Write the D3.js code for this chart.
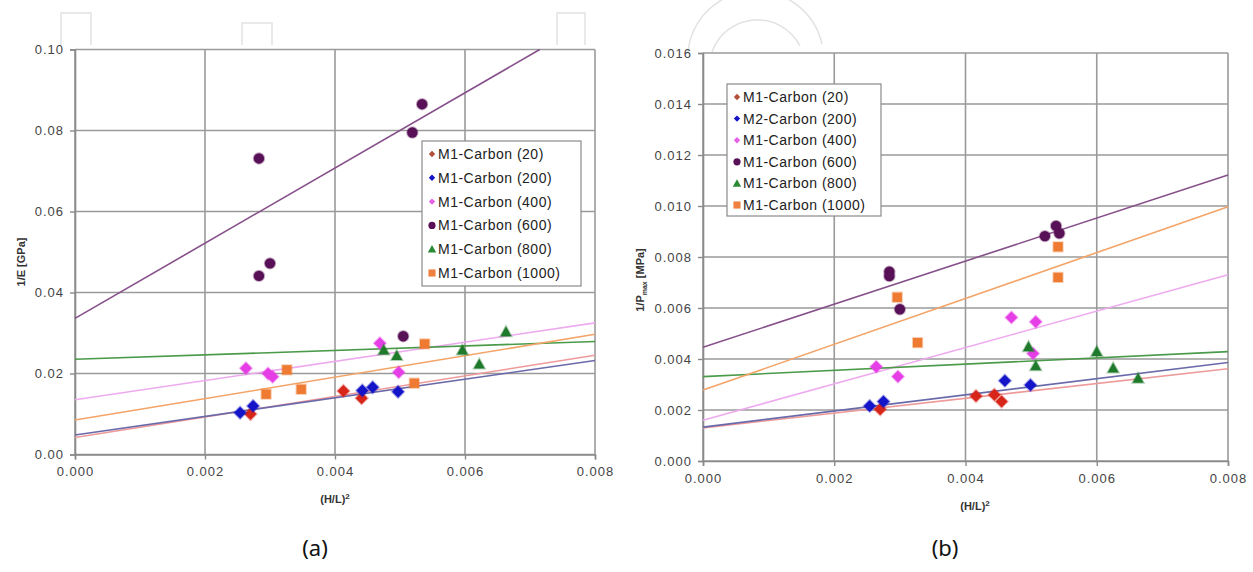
<!DOCTYPE html>
<html>
<head>
<meta charset="utf-8">
<script src="https://cdn.jsdelivr.net/npm/d3@7"></script>
<style>
  html, body { margin: 0; padding: 0; background: #ffffff; }
  svg { display: block; }
</style>
</head>
<body>
<svg id="chart" width="1253" height="572"></svg>
<script>
// ---------- DATA ----------
const seriesKeys = ["20", "200", "400", "600", "800", "1000"];
const legendLabelsA = ["M1-Carbon (20)", "M1-Carbon (200)", "M1-Carbon (400)", "M1-Carbon (600)", "M1-Carbon (800)", "M1-Carbon (1000)"];
const legendLabelsB = ["M1-Carbon (20)", "M2-Carbon (200)", "M1-Carbon (400)", "M1-Carbon (600)", "M1-Carbon (800)", "M1-Carbon (1000)"];

const xTicks = [0, 0.002, 0.004, 0.006, 0.008];
const yTicksA = [0, 0.02, 0.04, 0.06, 0.08, 0.10];
const yTicksB = [0, 0.002, 0.004, 0.006, 0.008, 0.010, 0.012, 0.014, 0.016];

// (a) 1/E [GPa] vs (H/L)^2
const a20   = [[0.0027, 0.0100], [0.00413, 0.0157], [0.00441, 0.0139]];
const a200  = [[0.00254, 0.0103], [0.00274, 0.0120], [0.00442, 0.0158], [0.00458, 0.0166], [0.00497, 0.0155]];
const a400  = [[0.00263, 0.0213], [0.00297, 0.0200], [0.00304, 0.0192], [0.00469, 0.0275], [0.00498, 0.0203]];
const a600  = [[0.00283, 0.0731], [0.00283, 0.0441], [0.0030, 0.0472], [0.00519, 0.0795], [0.00534, 0.0865], [0.00505, 0.0292]];
const a800  = [[0.00475, 0.0258], [0.00495, 0.0244], [0.00596, 0.0258], [0.00622, 0.0223], [0.00663, 0.0303]];
const a1000 = [[0.00294, 0.0149], [0.00326, 0.0209], [0.00348, 0.0161], [0.00522, 0.0176], [0.00538, 0.0273]];
const aTrend20   = [[0, 0.0042], [0.008, 0.0245]];
const aTrend200  = [[0, 0.0048], [0.008, 0.0232]];
const aTrend400  = [[0, 0.0135], [0.008, 0.0325]];
const aTrend600  = [[0, 0.0336], [0.00715, 0.10]];
const aTrend800  = [[0, 0.0235], [0.008, 0.0279]];
const aTrend1000 = [[0, 0.0085], [0.008, 0.0297]];

// (b) 1/Pmax [MPa] vs (H/L)^2
const b20   = [[0.0027, 0.00203], [0.00416, 0.00255], [0.00444, 0.0026], [0.00455, 0.00233]];
const b200  = [[0.00254, 0.00216], [0.00275, 0.00233], [0.0046, 0.00315], [0.00499, 0.00298]];
const b400  = [[0.00264, 0.0037], [0.00297, 0.00331], [0.0047, 0.00563], [0.00507, 0.00546], [0.00503, 0.00422]];
const b600  = [[0.00284, 0.00742], [0.00284, 0.00725], [0.0030, 0.00595], [0.00521, 0.00882], [0.00538, 0.00922], [0.00543, 0.00893]];
const b800  = [[0.00496, 0.00448], [0.00507, 0.00373], [0.006, 0.00429], [0.00625, 0.00364], [0.00663, 0.00324]];
const b1000 = [[0.00296, 0.00642], [0.00327, 0.00464], [0.00541, 0.0084], [0.00541, 0.0072]];
const bTrend20   = [[0, 0.0013], [0.008, 0.00362]];
const bTrend200  = [[0, 0.00133], [0.008, 0.00386]];
const bTrend400  = [[0, 0.0016], [0.008, 0.0073]];
const bTrend600  = [[0, 0.00446], [0.008, 0.01122]];
const bTrend800  = [[0, 0.00331], [0.008, 0.00429]];
const bTrend1000 = [[0, 0.00278], [0.008, 0.00997]];

// ---------- STYLE ----------
const markerColor = {"20": "#d8251a", "200": "#1414c8", "400": "#e63ee6", "600": "#581056", "800": "#1f7a2c", "1000": "#ef7a32"};
const legendColor = {"20": "#b0503a", "200": "#1414c8", "400": "#e660e6", "600": "#581056", "800": "#2a8a36", "1000": "#ef8040"};
const trendColor  = {"20": "#ee9a9a", "200": "#6a6aaa", "400": "#eeaaee", "600": "#86508a", "800": "#4a9a4a", "1000": "#f3a468"};
const shape = {"20": "diamond", "200": "diamond", "400": "diamond", "600": "circle", "800": "triangle", "1000": "square"};

function markerPath(type, s) {
  if (type === "diamond") return `M0,${-s}L${s},0L0,${s}L${-s},0Z`;
  if (type === "square") return `M${-s*0.85},${-s*0.85}h${s*1.7}v${s*1.7}h${-s*1.7}Z`;
  if (type === "triangle") return `M0,${-s}L${s},${s*0.8}L${-s},${s*0.8}Z`;
  return d3.symbol(d3.symbolCircle, Math.PI * s * s)();
}

const svg = d3.select("#chart");
const FONT = "'Liberation Sans', Arial, sans-serif";

// faint watermark decoration at top
const deco = svg.append("g").attr("fill", "none").attr("stroke", "#e2e2e2").attr("stroke-width", 1.5);
deco.append("path").attr("d", "M61,45V13H91V45");
deco.append("path").attr("d", "M242,45V23H272V45");
deco.append("path").attr("d", "M557,45V13H585V45");
deco.append("path").attr("d", "M688,52A68,68 0 0 1 822,44");
deco.append("path").attr("d", "M712,52A48,48 0 0 1 800,46");

function drawChart(cfg) {
  const x = d3.scaleLinear().domain([0, 0.008]).range(cfg.xRange);
  const y = d3.scaleLinear().domain(cfg.yDomain).range(cfg.yRange);
  const g = svg.append("g");

  // gridlines
  g.append("g").selectAll("line.h").data(cfg.yTicks).join("line")
    .attr("x1", cfg.xRange[0]).attr("x2", cfg.xRange[1])
    .attr("y1", d => y(d)).attr("y2", d => y(d))
    .attr("stroke", "#9a9a9a").attr("stroke-width", 1.6);
  g.append("g").selectAll("line.v").data(xTicks).join("line")
    .attr("y1", cfg.yRange[0]).attr("y2", cfg.yRange[1])
    .attr("x1", d => x(d)).attr("x2", d => x(d))
    .attr("stroke", "#9a9a9a").attr("stroke-width", 1.6);

  // axes
  const xAxis = d3.axisBottom(x).tickValues(xTicks).tickFormat(d3.format(".3f")).tickSize(5).tickPadding(5);
  const yAxis = d3.axisLeft(y).tickValues(cfg.yTicks).tickFormat(d3.format(cfg.yFormat)).tickSize(5).tickPadding(6);
  const gx = g.append("g").attr("transform", `translate(0,${cfg.yRange[0]})`).call(xAxis);
  const gy = g.append("g").attr("transform", `translate(${cfg.xRange[0]},0)`).call(yAxis);
  [gx, gy].forEach(ax => {
    ax.select(".domain").attr("stroke", "#8a8a8a").attr("stroke-width", 1.6);
    ax.selectAll(".tick line").attr("stroke", "#8a8a8a").attr("stroke-width", 1.4);
    ax.selectAll(".tick text").attr("fill", "#444").style("font-family", FONT)
      .style("font-size", "13px").style("letter-spacing", "1px");
  });
  gx.selectAll(".tick text").attr("dy", "0.9em");

  // trend lines
  const line = d3.line().x(d => x(d[0])).y(d => y(d[1]));
  seriesKeys.forEach(k => {
    g.append("path").datum(cfg.trends[k]).attr("d", line)
      .attr("fill", "none").attr("stroke", trendColor[k]).attr("stroke-width", 1.6);
  });

  // markers
  cfg.order.forEach(k => {
    g.append("g").selectAll("path").data(cfg.points[k]).join("path")
      .attr("transform", d => `translate(${x(d[0])},${y(d[1])})`)
      .attr("d", markerPath(shape[k], shape[k] === "circle" ? 5.2 : (shape[k] === "diamond" ? 6 : 5.5)))
      .attr("fill", markerColor[k]).attr("stroke", markerColor[k]).attr("stroke-opacity", 0.35).attr("stroke-width", 2);
  });

  // legend
  const lg = g.append("g");
  lg.append("rect").attr("x", cfg.legend.x).attr("y", cfg.legend.y)
    .attr("width", cfg.legend.w).attr("height", cfg.legend.h)
    .attr("fill", "#fff").attr("stroke", "#8a8a8a").attr("stroke-width", 1.2);
  seriesKeys.forEach((k, i) => {
    const ly = cfg.legend.y + cfg.legend.first + i * cfg.legend.step;
    const sz = shape[k] === "diamond" ? 3.2 : (shape[k] === "circle" ? 3.6 : 4.2);
    lg.append("path").attr("transform", `translate(${cfg.legend.x + 10},${ly})`)
      .attr("d", markerPath(shape[k], sz)).attr("fill", legendColor[k]);
    lg.append("text").attr("x", cfg.legend.x + 16).attr("y", ly).attr("dy", "0.36em")
      .text(cfg.labels[i]).attr("fill", "#222").style("font-family", FONT)
      .style("font-size", "14px").style("letter-spacing", "0.5px");
  });

  // axis titles
  g.append("text").attr("x", cfg.xTitle[0]).attr("y", cfg.xTitle[1]).attr("text-anchor", "middle")
    .style("font-family", FONT).style("font-size", "11px").style("font-weight", "bold").attr("fill", "#333")
    .call(t => { t.append("tspan").text("(H/L)"); t.append("tspan").attr("dy", "-4").style("font-size", "8px").text("2"); });
  const yt = g.append("text").attr("transform", `translate(${cfg.yTitle[0]},${cfg.yTitle[1]}) rotate(-90)`)
    .attr("text-anchor", "middle").style("font-family", FONT).style("font-size", "11px")
    .style("font-weight", "bold").attr("fill", "#333");
  cfg.yTitleParts.forEach(p => {
    const ts = yt.append("tspan").text(p.t);
    if (p.sub) ts.attr("dy", "3").style("font-size", "7px");
    if (p.after) ts.attr("dy", "-3");
  });

  // caption
  svg.append("text").attr("x", cfg.caption[0]).attr("y", cfg.caption[1]).attr("text-anchor", "middle")
    .style("font-family", "'Noto Sans', 'Open Sans', sans-serif").style("font-size", "22px").attr("fill", "#111")
    .text(cfg.captionText);
}

drawChart({
  xRange: [75, 595], yRange: [454.5, 49.5], yDomain: [0, 0.10], yTicks: yTicksA, yFormat: ".2f",
  trends: {"20": aTrend20, "200": aTrend200, "400": aTrend400, "600": aTrend600, "800": aTrend800, "1000": aTrend1000},
  points: {"20": a20, "200": a200, "400": a400, "600": a600, "800": a800, "1000": a1000},
  order: ["20", "1000", "400", "800", "600", "200"],
  legend: {x: 422, y: 141, w: 159, h: 145, first: 13, step: 23.8},
  labels: legendLabelsA,
  xTitle: [335, 503], yTitle: [25, 262],
  yTitleParts: [{t: "1/E [GPa]"}],
  caption: [315, 556], captionText: "(a)"
});

drawChart({
  xRange: [703, 1228], yRange: [461, 53], yDomain: [0, 0.016], yTicks: yTicksB, yFormat: ".3f",
  trends: {"20": bTrend20, "200": bTrend200, "400": bTrend400, "600": bTrend600, "800": bTrend800, "1000": bTrend1000},
  points: {"20": b20, "200": b200, "400": b400, "600": b600, "800": b800, "1000": b1000},
  order: ["1000", "400", "800", "600", "20", "200"],
  legend: {x: 727, y: 84, w: 154, h: 132, first: 13, step: 21.6},
  labels: legendLabelsB,
  xTitle: [975, 510], yTitle: [644, 280],
  yTitleParts: [{t: "1/P"}, {t: "max", sub: true}, {t: " [MPa]", after: true}],
  caption: [945, 556], captionText: "(b)"
});
</script>
</body>
</html>
